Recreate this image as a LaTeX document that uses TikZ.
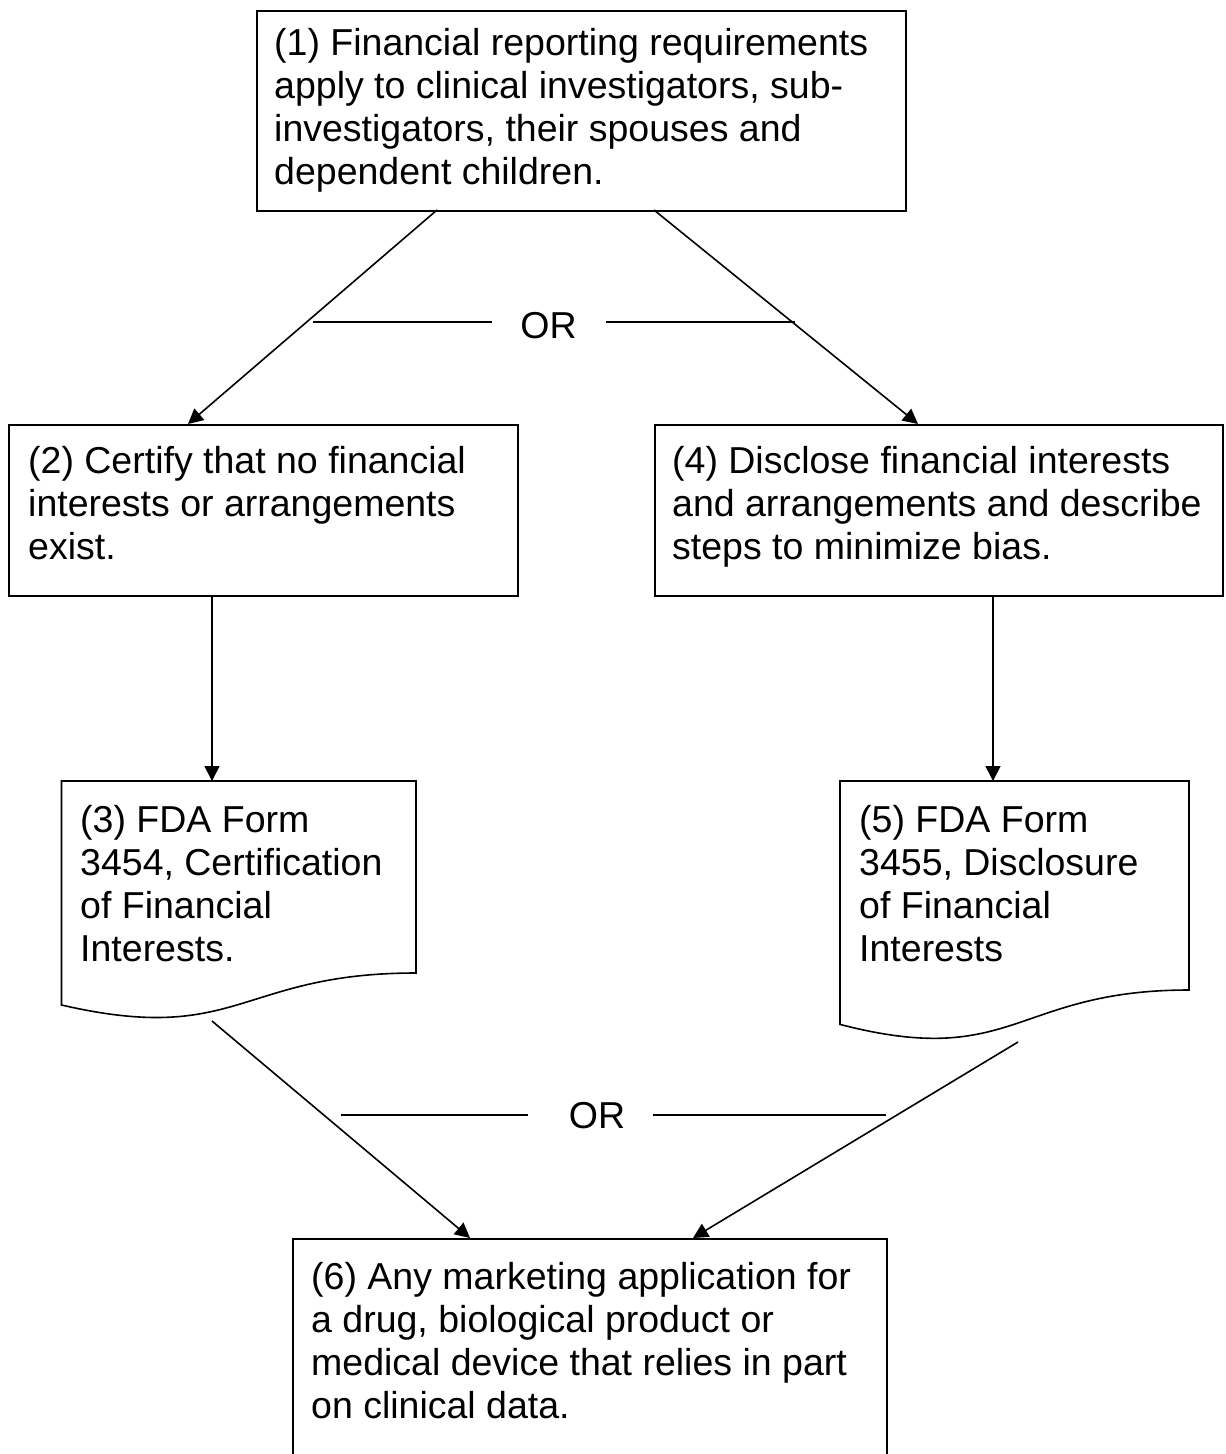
\documentclass[tikz,border=0pt]{standalone}
\usepackage{fontspec}
\setmainfont{Liberation Sans}
\usetikzlibrary{arrows.meta}
\begin{document}
\begin{tikzpicture}[x=1pt,y=-1pt,
  box/.style={draw, line width=1.6pt, inner sep=0pt, anchor=north west},
  doc/.style={draw, line width=1.6pt},
  txt/.style={anchor=north west, inner sep=0pt, align=left, font=\fontsize{37.5}{43}\selectfont},
  ortxt/.style={anchor=base, inner sep=0pt, font=\fontsize{37.5}{43}\selectfont},
  conn/.style={line width=1.6pt, -{Triangle[length=15pt,width=15pt]}},
  orline/.style={line width=1.6pt}]
\useasboundingbox (0,0) rectangle (1226,1454);
\fill[white] (0,0) rectangle (1226,1454);

% boxes
\node[box, minimum width=649pt, minimum height=200pt] (b1) at (256,10) {};
\node[box, minimum width=509pt, minimum height=171pt] (b2) at (8,424) {};
\node[box, minimum width=568pt, minimum height=171pt] (b4) at (654,424) {};
\node[box, minimum width=594pt, minimum height=230pt] (b6) at (292,1238) {};

% document shapes
\draw[doc] (61.5,781) coordinate (b3) -- (416,781) -- (416,973)
  .. controls (239,973) and (239,1046) .. (61.5,1005) -- cycle;
\draw[doc] (840,781) coordinate (b5) -- (1189,781) -- (1189,990)
  .. controls (1014.5,990) and (1014.5,1069.7) .. (840,1024.4) -- cycle;

% texts
\node[txt] (t1) at (274,24.9) {\strut(1) Financial reporting requirements\\apply to clinical investigators, sub-\\investigators, their spouses and\\dependent children.};
\node[txt] (t2) at (28,443) {\strut(2) Certify that no financial\\interests or arrangements\\exist.};
\node[txt] (t4) at (672,443) {\strut(4) Disclose financial interests\\and arrangements and describe\\steps to minimize bias.};
\node[txt] (t3) at (80,801.9) {\strut(3) FDA Form\\3454, Certification\\of Financial\\Interests.};
\node[txt] (t5) at (859,801.9) {\strut(5) FDA Form\\3455, Disclosure\\of Financial\\Interests};
\node[txt] (t6) at (311,1258.9) {\strut(6) Any marketing application for\\a drug, biological product or\\medical device that relies in part\\on clinical data.};

% connector end points
\coordinate (b1l) at (437,210);
\coordinate (b1r) at (654,210);
\coordinate (b2t) at (188,424);
\coordinate (b4t) at (918,424);
\coordinate (b2b) at (212,595);
\coordinate (b3t) at (212,781);
\coordinate (b4b) at (993,595);
\coordinate (b5t) at (993,781);
\coordinate (b3b) at (212,1021);
\coordinate (b5b) at (1018,1042);
\coordinate (b6l) at (470,1238);
\coordinate (b6r) at (693,1238);

\draw[conn] (b1l) -- (b2t);
\draw[conn] (b1r) -- (b4t);
\draw[conn] (b2b) -- (b3t);
\draw[conn] (b4b) -- (b5t);
\draw[conn] (b3b) -- (b6l);
\draw[conn] (b5b) -- (b6r);

% OR labels
\node[ortxt] (or1) at (548.5,338) {OR};
\coordinate (or1a) at (313,322);
\coordinate (or1b) at (492,322);
\coordinate (or1c) at (606,322);
\coordinate (or1d) at (795,322);
\draw[orline] (or1a) -- (or1b);
\draw[orline] (or1c) -- (or1d);

\node[ortxt] (or2) at (597,1128) {OR};
\coordinate (or2a) at (341,1115);
\coordinate (or2b) at (528,1115);
\coordinate (or2c) at (653,1115);
\coordinate (or2d) at (886,1115);
\draw[orline] (or2a) -- (or2b);
\draw[orline] (or2c) -- (or2d);
\end{tikzpicture}
\end{document}
